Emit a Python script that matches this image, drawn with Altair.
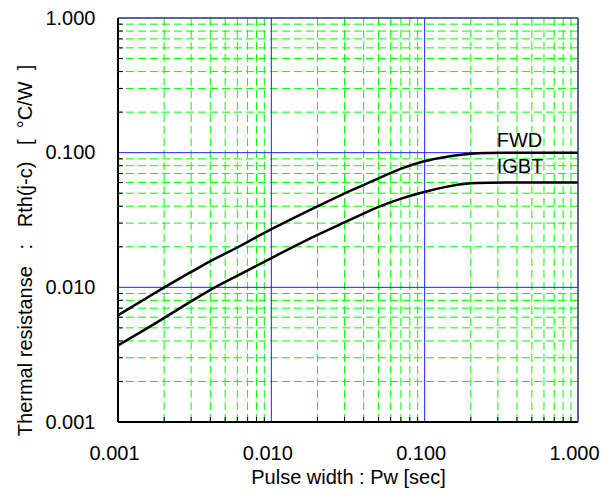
import altair as alt
import pandas as pd

# ---- data ----
pulse_fwd = [0.001, 0.002, 0.003, 0.004, 0.005, 0.006, 0.01, 0.02, 0.03, 0.04, 0.05, 0.07, 0.1, 0.136, 0.2, 0.3, 1.0]
rth_fwd = [0.0062, 0.0100, 0.0130, 0.0157, 0.0178, 0.0197, 0.0272, 0.0400, 0.0500, 0.0575, 0.0644, 0.0765, 0.0875, 0.0930, 0.0990, 0.1000, 0.1000]

pulse_igbt = [0.001, 0.002, 0.003, 0.004, 0.005, 0.006, 0.01, 0.02, 0.03, 0.04, 0.05, 0.07, 0.1, 0.136, 0.2, 0.3, 1.0]
rth_igbt = [0.0037, 0.0059, 0.0079, 0.0096, 0.0110, 0.0122, 0.0165, 0.0247, 0.0303, 0.0354, 0.0397, 0.0458, 0.0513, 0.0559, 0.0598, 0.0600, 0.0600]

label_names = ["FWD", "IGBT"]
label_x = [0.295, 0.295]
label_y = [0.110, 0.0703]

major_ticks = [0.001, 0.01, 0.1, 1.0]
inner_major = [0.01, 0.1]
minor_ticks = [0.002, 0.003, 0.004, 0.005, 0.006, 0.007, 0.008, 0.009,
               0.02, 0.03, 0.04, 0.05, 0.06, 0.07, 0.08, 0.09,
               0.2, 0.3, 0.4, 0.5, 0.6, 0.7, 0.8, 0.9]

NB = "\u00a0"
x_title = "Pulse width : Pw [sec]"
y_title = ("Thermal resistanse" + NB * 3 + ":" + NB * 3 + "Rth(j-c)" + NB * 3 +
           "[" + NB * 2 + "°C/W" + NB * 2 + "]")

W, H = 460, 404
FONT = "Liberation Sans"
FS = 20

curves = pd.DataFrame({
    "pw": pulse_fwd + pulse_igbt,
    "rth": rth_fwd + rth_igbt,
    "series": ["FWD"] * len(pulse_fwd) + ["IGBT"] * len(pulse_igbt),
})
labels = pd.DataFrame({"name": label_names, "pw": label_x, "rth": label_y})
minor_df = pd.DataFrame({"v": minor_ticks})
major_df = pd.DataFrame({"v": inner_major})

xs = alt.Scale(type="log", domain=[0.001, 1.0], nice=False)
ys = alt.Scale(type="log", domain=[0.001, 1.0], nice=False)

x_axis = alt.Axis(values=major_ticks, format=".3f", title=x_title,
                  grid=False, ticks=False, domain=False, labelFlush=False, labelOffset=-4,
                  labelFont=FONT, labelFontSize=FS, labelColor="#000000", labelPadding=21,
                  titleFont=FONT, titleFontSize=FS, titleFontWeight="normal", titleColor="#000000",
                  titleY=55, titleBaseline="middle")
y_axis = alt.Axis(values=major_ticks, format=".3f", title=y_title,
                  grid=False, ticks=False, domain=False, labelFlush=False,
                  labelFont=FONT, labelFontSize=FS, labelColor="#000000", labelPadding=23,
                  titleFont=FONT, titleFontSize=FS, titleFontWeight="normal", titleColor="#000000",
                  titleAngle=270, titleX=-93, titleY=232, titleBaseline="middle", titleAlign="center")

X = lambda f: alt.X(f, scale=xs, axis=x_axis)
Y = lambda f: alt.Y(f, scale=ys, axis=y_axis)

grid_minor_v = alt.Chart(minor_df).mark_rule(color="#00ff00", strokeDash=[8, 4], strokeWidth=1).encode(
    x=X("v:Q"))
grid_minor_h = alt.Chart(minor_df).mark_rule(color="#00ff00", strokeDash=[8, 4], strokeWidth=1).encode(
    y=Y("v:Q"))
grid_major_v = alt.Chart(major_df).mark_rule(color="#2020ff", strokeWidth=1).encode(
    x=X("v:Q"))
grid_major_h = alt.Chart(major_df).mark_rule(color="#2020ff", strokeWidth=1).encode(
    y=Y("v:Q"))

lines = alt.Chart(curves).mark_line(color="#000000", strokeWidth=2.5, interpolate="basis").encode(
    x=X("pw:Q"),
    y=Y("rth:Q"),
    detail="series:N",
)

text = alt.Chart(labels).mark_text(align="left", baseline="alphabetic", font=FONT, fontSize=FS,
                                   color="#000000").encode(
    x=X("pw:Q"),
    y=Y("rth:Q"),
    text="name:N",
)

ticks_x = alt.Chart(minor_df).mark_rule(color="#000000", strokeWidth=1).encode(
    x=X("v:Q"), y=alt.value(H), y2=alt.value(H - 5))
ticks_y = alt.Chart(minor_df).mark_rule(color="#000000", strokeWidth=1).encode(
    y=Y("v:Q"), x=alt.value(0), x2=alt.value(5))

one = alt.Data(values=[{"k": 1}])
border_left = alt.Chart(one).mark_rule(color="#000000", strokeWidth=2).encode(
    x=alt.value(0), y=alt.value(0), y2=alt.value(H))
border_bottom = alt.Chart(one).mark_rule(color="#000000", strokeWidth=2).encode(
    x=alt.value(0), x2=alt.value(W), y=alt.value(H))
border_top = alt.Chart(one).mark_rule(color="#2b2b7a", strokeWidth=1.5).encode(
    x=alt.value(0), x2=alt.value(W), y=alt.value(0))
border_right = alt.Chart(one).mark_rule(color="#2b2b7a", strokeWidth=1.5).encode(
    x=alt.value(W), y=alt.value(0), y2=alt.value(H))

chart = alt.layer(
    grid_minor_v, grid_minor_h, grid_major_v, grid_major_h,
    lines, text, ticks_x, ticks_y,
    border_left, border_bottom, border_top, border_right,
).properties(
    width=W, height=H,
    padding={"left": 118, "top": 18, "right": 24, "bottom": 77},
    autosize=alt.AutoSizeParams(type="none"),
    background="#ffffff",
).configure_view(stroke=None)

chart.save("out.html", embed_options={"renderer": "svg", "actions": False})
